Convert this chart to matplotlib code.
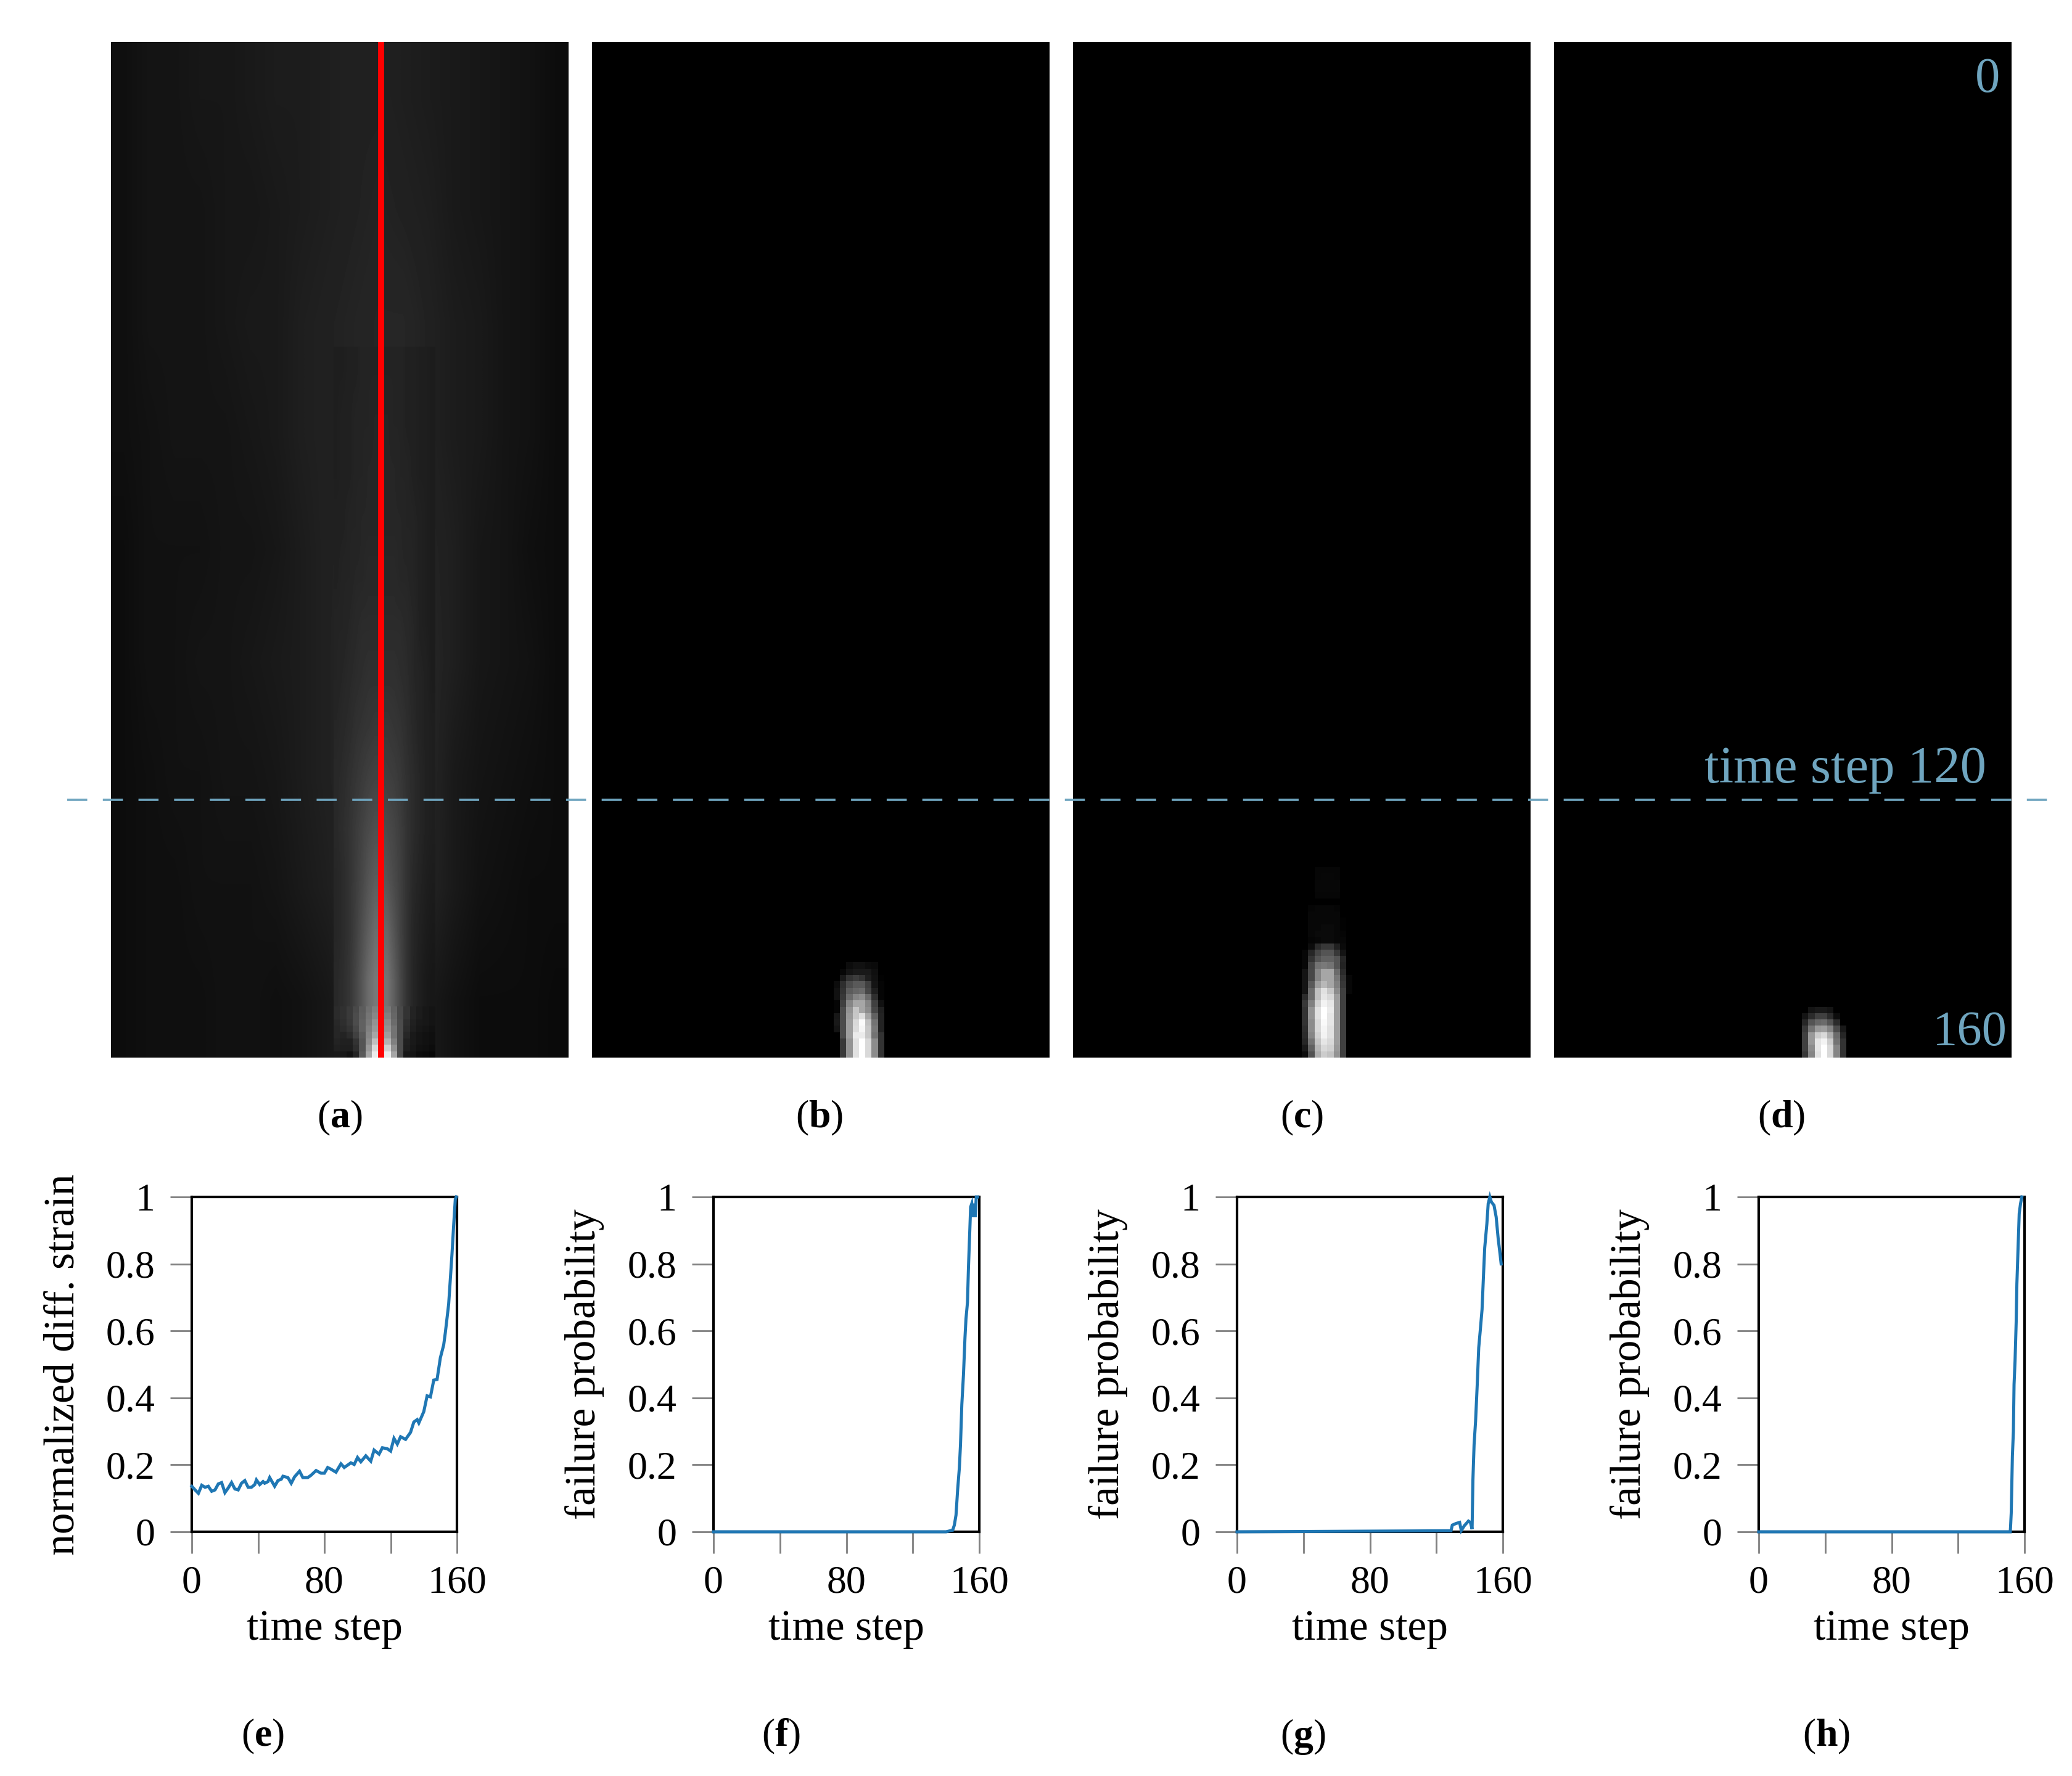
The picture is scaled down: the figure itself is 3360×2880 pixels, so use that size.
import numpy as np
import matplotlib
matplotlib.use('Agg')
import matplotlib.pyplot as plt
from matplotlib.lines import Line2D
from matplotlib.transforms import blended_transform_factory

plt.rcParams['font.family'] = ['Liberation Serif', 'DejaVu Serif']
plt.rcParams['mathtext.fontset'] = 'custom'
plt.rcParams['mathtext.rm'] = 'Liberation Serif'
plt.rcParams['mathtext.bf'] = 'Liberation Serif:bold'

W, H = 3360, 2880
N_ROWS, N_COLS = 160, 72
BLUE = '#1f77b4'
MARK = '#6fa5bf'

# panel a: dim background, time steps 0..160 in 9 rows, 18 columns
strain_bg = np.array([
    [.06,.08,.08,.09,.09,.10,.11,.11,.12,.13,.13,.12,.11,.10,.09,.08,.07,.05],
    [.06,.08,.08,.08,.09,.09,.10,.11,.12,.13,.14,.13,.12,.10,.09,.08,.07,.05],
    [.06,.08,.08,.08,.09,.10,.10,.12,.13,.14,.15,.15,.13,.11,.10,.08,.07,.05],
    [.06,.07,.08,.08,.08,.09,.10,.12,.13,.14,.15,.15,.13,.11,.10,.08,.07,.05],
    [.05,.07,.07,.07,.08,.08,.09,.11,.13,.14,.16,.16,.14,.12,.09,.08,.06,.05],
    [.05,.07,.07,.08,.08,.09,.10,.11,.13,.15,.17,.17,.15,.12,.09,.08,.07,.05],
    [.05,.06,.07,.07,.08,.08,.09,.11,.13,.15,.18,.18,.15,.10,.08,.07,.06,.05],
    [.05,.06,.06,.07,.07,.07,.08,.10,.12,.15,.18,.18,.14,.10,.07,.06,.05,.05],
    [.05,.06,.06,.06,.07,.07,.06,.07,.09,.12,.15,.15,.10,.07,.05,.05,.05,.04],
])

# panel a: fan around the crack, columns 35..50, 8 steps per row, from step 48
strain_fan = np.array([
    [.12,.12,.13,.13,.14,.14,.14,.14,.14,.14,.14,.13,.13,.12,.12,.11],
    [.12,.13,.13,.14,.14,.14,.15,.15,.15,.14,.14,.13,.13,.12,.12,.11],
    [.12,.13,.13,.14,.14,.15,.15,.15,.15,.15,.14,.14,.13,.12,.12,.11],
    [.13,.13,.14,.14,.15,.15,.15,.15,.15,.15,.15,.14,.14,.13,.12,.11],
    [.13,.14,.14,.15,.15,.16,.16,.16,.16,.16,.15,.15,.14,.13,.12,.11],
    [.14,.14,.15,.16,.17,.17,.17,.17,.17,.17,.17,.16,.15,.13,.12,.11],
    [.14,.15,.16,.17,.18,.19,.19,.19,.19,.19,.18,.17,.15,.14,.13,.11],
    [.15,.16,.17,.19,.20,.21,.22,.22,.22,.21,.20,.18,.16,.14,.13,.12],
    [.16,.17,.19,.21,.23,.25,.26,.26,.25,.24,.22,.19,.17,.15,.13,.12],
    [.16,.18,.20,.23,.26,.29,.31,.31,.29,.27,.24,.20,.17,.15,.13,.12],
    [.15,.17,.20,.24,.28,.33,.36,.36,.33,.29,.25,.20,.16,.14,.12,.11],
    [.15,.17,.20,.25,.31,.37,.42,.42,.40,.33,.26,.20,.15,.13,.11,.10],
    [.16,.18,.21,.27,.34,.42,.47,.47,.45,.37,.28,.20,.15,.12,.10,.09],
])

# panel a: last 8 time steps, same columns
strain_tip = np.array([
    [.17,.19,.23,.29,.36,.44,.50,.50,.47,.39,.29,.20,.14,.11,.09,.08],
    [.17,.19,.23,.30,.37,.46,.53,.53,.50,.40,.29,.20,.14,.11,.09,.08],
    [.16,.18,.22,.30,.38,.48,.58,.58,.55,.42,.30,.18,.13,.10,.09,.08],
    [.15,.17,.20,.28,.38,.50,.60,.60,.58,.45,.30,.17,.12,.09,.08,.07],
    [.15,.14,.17,.25,.35,.52,.65,.65,.62,.45,.30,.15,.10,.08,.07,.06],
    [.14,.13,.13,.20,.33,.55,.75,.75,.70,.50,.30,.13,.10,.08,.07,.06],
    [.13,.12,.12,.18,.33,.60,.85,.85,.82,.57,.30,.12,.09,.07,.06,.05],
    [.10,.09,.07,.14,.35,.65,.92,.95,.92,.65,.30,.09,.08,.05,.04,.03],
])
strain_col = 35
crack_col = 42.5

# panels b, c, d: the only non black cells, last rows of each map
prob_b_col = 38
prob_b = np.array([
    [0,0,.05,.07,.07,.05,.04,0],
    [0,.03,.08,.10,.10,.10,.06,0],
    [0,.10,.20,.24,.20,.12,.07,.01],
    [.05,.18,.30,.35,.35,.25,.08,.02],
    [.07,.20,.36,.40,.42,.28,.12,.02],
    [.07,.22,.42,.52,.55,.42,.18,.02],
    [.02,.25,.52,.65,.65,.52,.25,.07],
    [.02,.30,.58,.77,.65,.55,.28,.13],
    [.09,.30,.60,.78,.87,.65,.38,.14],
    [.10,.30,.62,.85,.98,.75,.45,.14],
    [.08,.30,.62,.86,.96,.78,.48,.14],
    [0,.30,.62,.92,.92,.78,.45,.20],
    [0,.22,.58,.88,1.0,.85,.55,.20],
    [0,.22,.58,.88,1.0,.85,.55,.20],
    [0,.22,.58,.88,1.0,.85,.55,.20],
])
prob_c_col = 36
prob_c = np.array([
    [0,0,.025,.025,.025,.025,0,0],
    [0,0,.025,.03,.03,.025,0,0],
    [0,0,.03,.03,.03,.03,0,0],
    [0,0,.03,.03,.03,.03,0,0],
    [0,0,.025,.025,.025,.025,0,0],
    [0,0,0,0,0,0,0,0],
    [0,.02,.03,.03,.03,.02,0,0],
    [0,.03,.03,.03,.03,.03,0,0],
    [0,.03,.03,.03,.03,.03,.01,0],
    [0,.03,.03,.04,.04,.03,.01,0],
    [0,.03,.04,.04,.04,.03,.02,0],
    [0,.02,.03,.04,.04,.03,.03,0],
    [0,.05,.17,.22,.22,.13,.04,0],
    [.03,.15,.27,.33,.33,.22,.08,0],
    [.03,.20,.33,.38,.38,.33,.15,0],
    [.03,.27,.45,.48,.45,.33,.14,0],
    [.08,.28,.52,.65,.65,.42,.17,0],
    [.08,.28,.52,.65,.65,.47,.20,.03],
    [.08,.35,.62,.72,.65,.50,.22,.03],
    [.08,.42,.75,.88,.78,.55,.25,.03],
    [.17,.42,.75,.90,.85,.62,.25,0],
    [.22,.50,.82,.95,.90,.62,.25,0],
    [.20,.58,.88,1.0,.92,.62,.25,0],
    [.20,.58,.88,1.0,.90,.62,.25,0],
    [.20,.55,.85,.98,.90,.62,.25,0],
    [.18,.55,.85,.96,.88,.62,.25,0],
    [.17,.52,.82,.95,.88,.62,.25,0],
    [.15,.45,.77,.90,.85,.62,.25,0],
    [.10,.38,.72,.85,.82,.60,.25,0],
    [.05,.32,.68,.80,.76,.58,.25,0],
])
prob_d_col = 39
prob_d = np.array([
    [0,.08,.10,.10,.08,0,0],
    [.08,.17,.25,.25,.17,.05,0],
    [.15,.33,.40,.42,.33,.17,0],
    [.22,.45,.60,.62,.52,.30,.10],
    [.25,.60,.80,.85,.68,.42,.15],
    [.25,.60,.90,.95,.80,.45,.20],
    [.25,.55,.90,1.0,.85,.52,.20],
    [.22,.52,.88,1.0,.85,.52,.20],
])

# line plots
steps_e = [0,2,4,6,8,10,12,14,16,18,20,22,24,26,28,30,32,34,36,38,39,41,43,44,46,47,50,52,54,55,
           58,60,62,65,67,70,72,75,78,80,82,84,87,90,92,96,98,100,102,105,108,110,113,115,118,
           120,122,124,126,129,132,134,136,137,140,142,144,146,148,150,152,153,155,156,157,158,159,159.6]
strain_e = [.136,.125,.115,.139,.133,.136,.121,.125,.143,.147,.117,.131,.147,.128,.125,.145,.153,.133,.133,.141,.155,.141,.150,.145,.150,.162,
            .136,.153,.157,.166,.162,.145,.164,.181,.162,.162,.169,.183,.175,.175,.192,.187,.178,.203,.192,.206,.201,.222,.209,.227,
            .211,.244,.232,.251,.248,.241,.279,.262,.284,.276,.297,.328,.335,.325,.359,.406,.403,.453,.455,.520,.558,.595,.680,.754,.829,.914,.993,1.0]

steps_f = [0,140,144,145,146,147,148,148.7,149.5,150.5,151.4,152,152.9,153.5,154.3,154.8,155.5,156.4,157,157.6,158.2,159]
prob_f = [0,0,.005,.02,.05,.127,.19,.26,.38,.47,.58,.636,.685,.79,.90,.97,.98,.94,.98,.94,1.0,1.0]

steps_g = [0,125,128.8,129.6,131.9,134,135,136.8,139.3,140.5,141.5,142,142.7,143.6,144.6,145.5,146.4,147.5,148.4,149.1,150.4,151.2,152.2,153.1,154.7,156,157.2,158.4,159]
prob_g = [0,.003,.003,.02,.025,.028,.004,.018,.032,.028,.008,.155,.26,.33,.44,.55,.60,.664,.77,.848,.92,.98,1.0,.985,.975,.94,.876,.827,.80]

steps_h = [0,151.4,151.6,152,152.7,153.3,153.7,154.3,155,155.4,156.2,156.8,157.6,158.4]
prob_h = [0,0,.014,.056,.226,.30,.44,.51,.63,.74,.86,.95,.98,1.0]

xticks = [0, 40, 80, 120, 160]
xticklabels = ['0', '', '80', '', '160']
yticks = [0, .2, .4, .6, .8, 1]
yticklabels = ['0', '0.2', '0.4', '0.6', '0.8', '1']

map_boxes = [(180, 922), (960, 1702), (1740, 2482), (2520, 3262)]
map_top, map_bottom = 68, 1715
line_boxes = [(311, 741), (1157, 1588), (2006, 2437), (2852, 3283)]
line_top, line_bottom = 1941, 2484

labels_top = [('a', 551), ('b', 1329), ('c', 2111), ('d', 2889)]
labels_bottom = [('e', 426), ('f', 1266), ('g', 2113), ('h', 2962)]


def add_axes(left, right, top, bottom):
    return fig.add_axes([left / W, 1 - bottom / H, (right - left) / W, (bottom - top) / H])


def fix_map(ax):
    ax.set_xlim(0, N_COLS)
    ax.set_ylim(N_ROWS, 0)
    ax.set_aspect('auto')
    ax.axis('off')


def prob_map(col, cells):
    full = np.zeros((N_ROWS, N_COLS))
    full[N_ROWS - len(cells):, col:col + cells.shape[1]] = cells
    return full


fig = plt.figure(figsize=(W / 100, H / 100), dpi=100)
gray = dict(cmap='gray', vmin=0, vmax=1, aspect='auto')

ax = add_axes(map_boxes[0][0], map_boxes[0][1], map_top, map_bottom)
ax.imshow(strain_bg, extent=(0, N_COLS, N_ROWS, 0), interpolation='bilinear', **gray)
ax.imshow(strain_fan, extent=(strain_col, strain_col + 16, 152, 48), interpolation='bilinear', **gray)
ax.imshow(strain_tip, extent=(strain_col, strain_col + 16, N_ROWS, 152), interpolation='nearest', **gray)
ax.axvline(crack_col, color='#ff0000', lw=7.2)
fix_map(ax)
ax_a = ax

for (left, right), col, cells in zip(map_boxes[1:], [prob_b_col, prob_c_col, prob_d_col], [prob_b, prob_c, prob_d]):
    ax = add_axes(left, right, map_top, map_bottom)
    ax.imshow(prob_map(col, cells), extent=(0, N_COLS, N_ROWS, 0), interpolation='nearest', **gray)
    fix_map(ax)
ax_d = ax

# dashed marker across all the maps
trans = blended_transform_factory(fig.transFigure, ax_a.transData)
fig.add_artist(Line2D([109 / W, 3334 / W], [119.4, 119.4], transform=trans, color=MARK,
                      lw=2.6, dashes=(9, 7), zorder=20))

ax_d.text(0.975, 0.985, '0', transform=ax_d.transAxes, color=MARK, fontsize=58, ha='right', va='top')
ax_d.text(0.945, 119.4 / N_ROWS, 'time step 120', transform=ax_d.transAxes, color=MARK, fontsize=61,
          ha='right', va='bottom')
ax_d.texts[-1].set_y(1 - 119.4 / N_ROWS + 0.006)
ax_d.text(0.99, 0.002, '160', transform=ax_d.transAxes, color=MARK, fontsize=58, ha='right', va='bottom')

series = [(steps_e, strain_e, 'normalized diff. strain'),
          (steps_f, prob_f, 'failure probability'),
          (steps_g, prob_g, 'failure probability'),
          (steps_h, prob_h, 'failure probability')]
for (left, right), (xs, ys, ylabel) in zip(line_boxes, series):
    ax = add_axes(left, right, line_top, line_bottom)
    ax.plot(xs, ys, color=BLUE, lw=3.6, clip_on=False, zorder=5, solid_joinstyle='miter')
    ax.set_xlim(0, 160)
    ax.set_ylim(0, 1)
    ax.set_xticks(xticks)
    ax.set_xticklabels(xticklabels)
    ax.set_yticks(yticks)
    ax.set_yticklabels(yticklabels)
    ax.tick_params(length=25, width=2, color='#808080', labelsize=46, pad=14)
    ax.tick_params(axis='y', pad=18)
    for spine in ax.spines.values():
        spine.set_linewidth(3)
    ax.set_xlabel('time step', fontsize=50, labelpad=10)
    ax.set_ylabel(ylabel, fontsize=50)
    ax.yaxis.set_label_coords(-0.41, 0.5)

for letter, x in labels_top:
    fig.text(x / W, 1 - 1813 / H, '($\\mathbf{%s}$)' % letter, fontsize=46, ha='center', va='center')
for letter, x in labels_bottom:
    fig.text(x / W, 1 - 2816 / H, '($\\mathbf{%s}$)' % letter, fontsize=46, ha='center', va='center')

fig.savefig('out.png', dpi=100, facecolor='white')
